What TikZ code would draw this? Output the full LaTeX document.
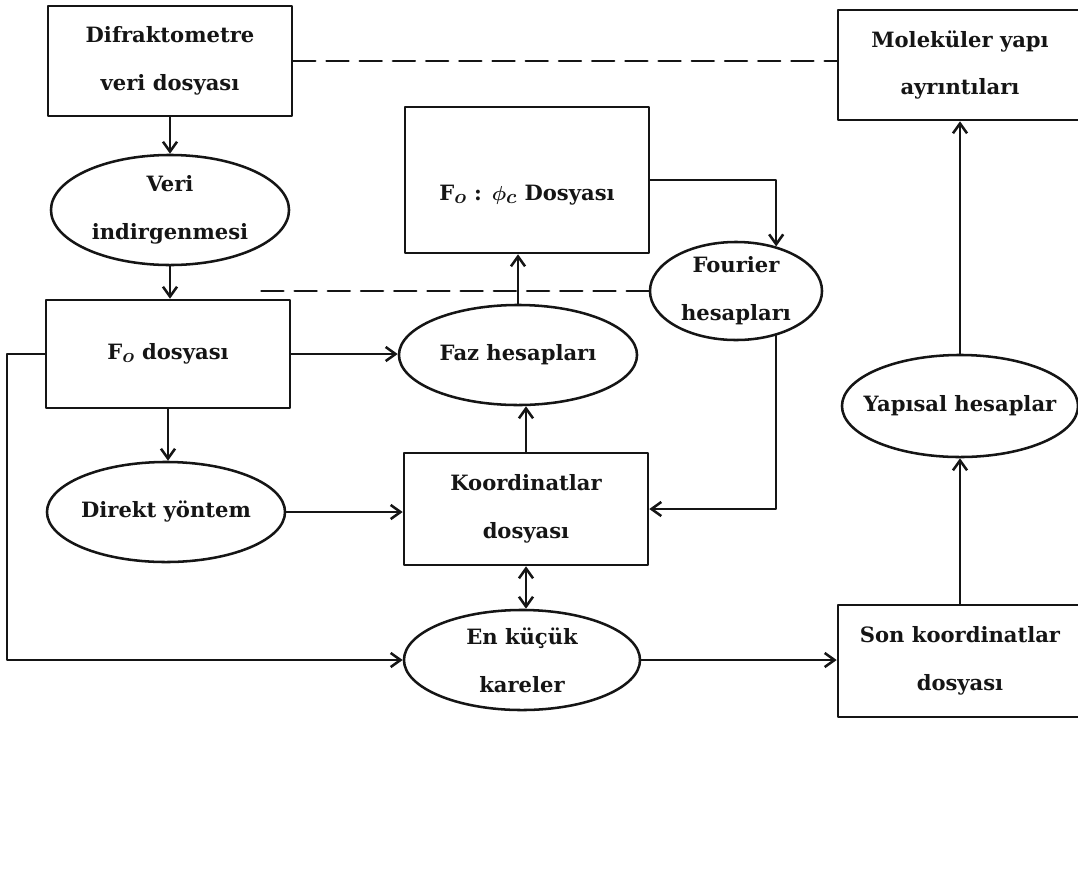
\documentclass[tikz,border=0pt]{standalone}
\usepackage{amsmath,amssymb}
\usepackage{fontspec}
\setmainfont{DejaVu Serif}
\usepackage{xcolor}
\usepackage{tikz}
\usetikzlibrary{shapes.geometric,arrows.meta}
\definecolor{ink}{HTML}{151515}
\newcommand{\DiagFont}{\bfseries\boldmath\fontsize{15}{34}\selectfont}
\tikzset{
  FileBox/.style={
    draw=ink, line width=1.8pt,
    minimum width=6.1cm, minimum height=2.75cm,
    inner sep=0pt, align=center, text=ink,
    font=\DiagFont
  },
  ProcEllipse/.style={
    ellipse, draw=ink, line width=1.8pt,
    minimum width=5.95cm, minimum height=2.5cm,
    inner sep=0pt
  },
  InText/.style={align=center, text=ink, font=\DiagFont},
  Flow/.style={draw=ink, line width=1.8pt, ->},
  Link/.style={draw=ink, line width=1.8pt, dash pattern=on 0.55cm off 0.28cm}
}

\begin{document}
\begin{tikzpicture}[x=0.025cm, y=-0.025cm, line cap=round, line join=round,
    >={Straight Barb[length=7pt,width=10pt]}]
  \useasboundingbox (0,0) rectangle (1078,869);
  \clip (0,0) rectangle (1078,869);

  % files
  \node[FileBox] (difr) at (170,61) {Difraktometre\\veri dosyası};
  \node[FileBox] (molek) at (960,65) {Moleküler yapı\\ayrıntıları};
  \node[FileBox, minimum height=3.65cm, text height=1.1cm, text depth=0.1cm]
    (fophi) at (527,180) {F$_{\textstyle o}$ : $\phi_{\textstyle c}$ Dosyası};
  \node[FileBox, minimum height=2.7cm] (fo) at (168,354) {F$_{\textstyle o}$ dosyası};
  \node[FileBox, minimum height=2.8cm] (koord) at (526,509) {Koordinatlar\\dosyası};
  \node[FileBox, minimum height=2.8cm] (son) at (960,661) {Son koordinatlar\\dosyası};

  % calculations
  \node[ProcEllipse, minimum height=2.75cm,
        label={[InText]center:Veri\\indirgenmesi}] (veri) at (170,210) {};
  \node[ProcEllipse, label={[InText]center:Direkt yöntem}] (direkt) at (166,512) {};
  \node[ProcEllipse, label={[InText]center:Faz hesapları}] (faz) at (518,355) {};
  \node[ProcEllipse, minimum width=4.3cm, minimum height=2.45cm,
        label={[InText]center:Fourier\\hesapları}] (fourier) at (736,291) {};
  \node[ProcEllipse, minimum width=5.9cm,
        label={[InText]center:En küçük\\kareler}] (enk) at (522,660) {};
  \node[ProcEllipse, minimum width=5.9cm, minimum height=2.55cm,
        label={[InText]center:Yapısal hesaplar}] (yap) at (960,406) {};

  \coordinate (dashend) at (253,283);
  \coordinate (lp) at (7,355);

  % main flow
  \draw[Flow] (difr.south) -- (difr.south |- veri.north);
  \draw[Flow] (veri.south) -- (veri.south |- fo.north);
  \draw[Flow] (fo.east) -- (fo.east -| faz.west);
  \draw[Flow] (fo.south) -- (fo.south |- direkt.north);
  \draw[Flow] (direkt.east) -- (direkt.east -| koord.west);
  \draw[Flow] (koord.north) -- (koord.north |- faz.south);
  \draw[Flow] (faz.north) -- (faz.north |- fophi.south);
  \draw[Flow] (fophi.east) -| (fourier.48);
  \draw[Flow] (fourier.-48) |- (koord.east);
  \draw[Flow, <->] (koord.south) -- (koord.south |- enk.north);
  \draw[Flow] (fo.west) -- (fo.west -| lp) |- (enk.west);
  \draw[Flow] (enk.east) -- (enk.east -| son.west);
  \draw[Flow] (son.north) -- (son.north |- yap.south);
  \draw[Flow] (yap.north) -- (yap.north |- molek.south);

  % dashed links
  \draw[Link] (difr.east) -- (difr.east -| molek.west);
  \draw[Link] (fourier.west) -- (fourier.west -| dashend);
\end{tikzpicture}
\end{document}
